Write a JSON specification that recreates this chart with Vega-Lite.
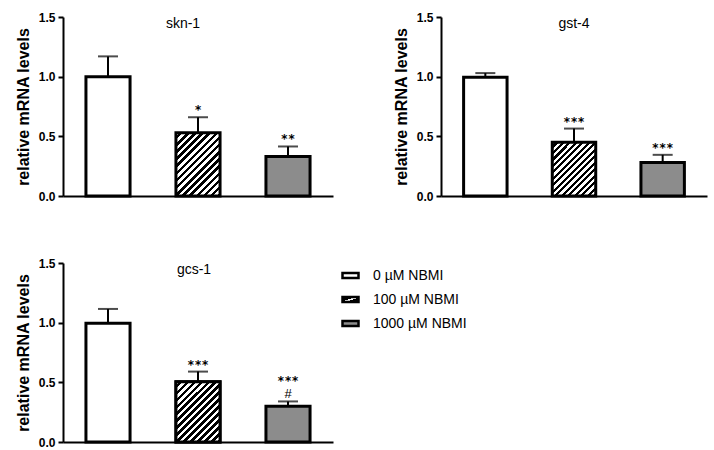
{
  "$schema": "https://vega.github.io/schema/vega-lite/v6.json",
  "padding": {"left": 15, "top": 11, "right": 5, "bottom": 0},
  "background": "white",
  "columns": 2,
  "spacing": {"row": 55, "column": 60},
  "datasets": {
    "d": [
      {"gene": "skn-1", "cond": "0 µM NBMI", "mean": 1.0, "upper": 1.17, "sig": "", "hash": ""},
      {"gene": "skn-1", "cond": "100 µM NBMI", "mean": 0.53, "upper": 0.66, "sig": "*", "hash": ""},
      {"gene": "skn-1", "cond": "1000 µM NBMI", "mean": 0.33, "upper": 0.415, "sig": "**", "hash": ""},
      {"gene": "gst-4", "cond": "0 µM NBMI", "mean": 0.995, "upper": 1.03, "sig": "", "hash": ""},
      {"gene": "gst-4", "cond": "100 µM NBMI", "mean": 0.45, "upper": 0.565, "sig": "***", "hash": ""},
      {"gene": "gst-4", "cond": "1000 µM NBMI", "mean": 0.28, "upper": 0.345, "sig": "***", "hash": ""},
      {"gene": "gcs-1", "cond": "0 µM NBMI", "mean": 0.995, "upper": 1.115, "sig": "", "hash": ""},
      {"gene": "gcs-1", "cond": "100 µM NBMI", "mean": 0.505, "upper": 0.59, "sig": "***", "hash": ""},
      {"gene": "gcs-1", "cond": "1000 µM NBMI", "mean": 0.3, "upper": 0.34, "sig": "***", "hash": "#"}
    ]
  },
  "concat": [
    {
      "width": 270, "height": 179,
      "data": {"name": "d"},
      "transform": [{"filter": "datum.gene === 'skn-1'"}],
      "encoding": {
        "x": {"field": "cond", "type": "nominal", "sort": null, "title": null, "scale": {"paddingInner": 0.51, "paddingOuter": 0.255}, "axis": {"labels": false, "ticks": false, "domainWidth": 2, "domainColor": "black"}},
        "y": {"field": "mean", "type": "quantitative", "title": "relative mRNA levels", "scale": {"domain": [0, 1.5]}, "axis": {"values": [0, 0.5, 1, 1.5], "format": ".1f"}}
      },
      "layer": [
        {"mark": {"type": "rule", "color": "black", "strokeWidth": 2}, "encoding": {"y2": {"field": "upper"}}},
        {"mark": {"type": "tick", "color": "black", "thickness": 2, "size": 20}, "encoding": {"y": {"field": "upper", "type": "quantitative", "title": "relative mRNA levels", "axis": {"values": [0, 0.5, 1, 1.5], "format": ".1f"}}}},
        {"mark": {"type": "bar", "stroke": "black", "strokeWidth": 3},
         "encoding": {"fill": {
           "condition": {"test": "datum.cond === '100 µM NBMI'", "value": {"gradient": "linear", "x1": 0, "y1": 0, "x2": 0.797, "y2": 1.142, "stops": [
{"offset":0,"color":"#fff"},{"offset":0.0333,"color":"#fff"},{"offset":0.0333,"color":"#000"},{"offset":0.0667,"color":"#000"},
{"offset":0.0667,"color":"#fff"},{"offset":0.1,"color":"#fff"},{"offset":0.1,"color":"#000"},{"offset":0.1333,"color":"#000"},
{"offset":0.1333,"color":"#fff"},{"offset":0.1667,"color":"#fff"},{"offset":0.1667,"color":"#000"},{"offset":0.2,"color":"#000"},
{"offset":0.2,"color":"#fff"},{"offset":0.2333,"color":"#fff"},{"offset":0.2333,"color":"#000"},{"offset":0.2667,"color":"#000"},
{"offset":0.2667,"color":"#fff"},{"offset":0.3,"color":"#fff"},{"offset":0.3,"color":"#000"},{"offset":0.3333,"color":"#000"},
{"offset":0.3333,"color":"#fff"},{"offset":0.3667,"color":"#fff"},{"offset":0.3667,"color":"#000"},{"offset":0.4,"color":"#000"},
{"offset":0.4,"color":"#fff"},{"offset":0.4333,"color":"#fff"},{"offset":0.4333,"color":"#000"},{"offset":0.4667,"color":"#000"},
{"offset":0.4667,"color":"#fff"},{"offset":0.5,"color":"#fff"},{"offset":0.5,"color":"#000"},{"offset":0.5333,"color":"#000"},
{"offset":0.5333,"color":"#fff"},{"offset":0.5667,"color":"#fff"},{"offset":0.5667,"color":"#000"},{"offset":0.6,"color":"#000"},
{"offset":0.6,"color":"#fff"},{"offset":0.6333,"color":"#fff"},{"offset":0.6333,"color":"#000"},{"offset":0.6667,"color":"#000"},
{"offset":0.6667,"color":"#fff"},{"offset":0.7,"color":"#fff"},{"offset":0.7,"color":"#000"},{"offset":0.7333,"color":"#000"},
{"offset":0.7333,"color":"#fff"},{"offset":0.7667,"color":"#fff"},{"offset":0.7667,"color":"#000"},{"offset":0.8,"color":"#000"},
{"offset":0.8,"color":"#fff"},{"offset":0.8333,"color":"#fff"},{"offset":0.8333,"color":"#000"},{"offset":0.8667,"color":"#000"},
{"offset":0.8667,"color":"#fff"},{"offset":0.9,"color":"#fff"},{"offset":0.9,"color":"#000"},{"offset":0.9333,"color":"#000"},
{"offset":0.9333,"color":"#fff"},{"offset":0.9667,"color":"#fff"},{"offset":0.9667,"color":"#000"},{"offset":1,"color":"#000"}]}},
           "field": "cond", "type": "nominal", "sort": null,
           "scale": {"domain": ["0 µM NBMI", "100 µM NBMI", "1000 µM NBMI"], "range": ["white", "url(#lg)", "#8c8c8c"]},
           "legend": {"orient": "none", "legendX": 278, "legendY": 249, "title": null, "symbolType": "M-1,-0.3H1V0.3H-1Z", "symbolSize": 256, "symbolStrokeColor": "black", "symbolStrokeWidth": 2.5, "symbolOpacity": 1, "labelFont": "Liberation Sans", "labelFontSize": 14, "labelColor": "black", "labelOffset": 13, "rowPadding": 7, "padding": 0}
         }}},
        {"transform": [{"filter": "datum.hash === ''"}], "mark": {"type": "text", "font": "DejaVu Sans Mono", "fontWeight": "bold", "fontSize": 12, "baseline": "alphabetic", "dy": -3, "color": "black"}, "encoding": {"y": {"field": "upper", "type": "quantitative", "title": "relative mRNA levels", "axis": {"values": [0, 0.5, 1, 1.5], "format": ".1f"}}, "text": {"field": "sig"}}},
        {"transform": [{"filter": "datum.cond === '100 µM NBMI'"}], "mark": {"type": "text", "font": "Liberation Sans", "fontSize": 14, "baseline": "middle", "dx": -15, "color": "black"}, "encoding": {"y": {"datum": 1.44, "type": "quantitative"}, "text": {"field": "gene"}}}
      ]
    },
    {
      "width": 266, "height": 179,
      "data": {"name": "d"},
      "transform": [{"filter": "datum.gene === 'gst-4'"}],
      "encoding": {
        "x": {"field": "cond", "type": "nominal", "sort": null, "title": null, "scale": {"paddingInner": 0.51, "paddingOuter": 0.255}, "axis": {"labels": false, "ticks": false, "domainWidth": 2, "domainColor": "black"}},
        "y": {"field": "mean", "type": "quantitative", "title": "relative mRNA levels", "scale": {"domain": [0, 1.5]}, "axis": {"values": [0, 0.5, 1, 1.5], "format": ".1f"}}
      },
      "layer": [
        {"mark": {"type": "rule", "color": "black", "strokeWidth": 2}, "encoding": {"y2": {"field": "upper"}}},
        {"mark": {"type": "tick", "color": "black", "thickness": 2, "size": 20}, "encoding": {"y": {"field": "upper", "type": "quantitative", "title": "relative mRNA levels", "axis": {"values": [0, 0.5, 1, 1.5], "format": ".1f"}}}},
        {"mark": {"type": "bar", "stroke": "black", "strokeWidth": 3},
         "encoding": {"fill": {
           "condition": {"test": "datum.cond === '100 µM NBMI'", "value": {"gradient": "linear", "x1": 0, "y1": 0, "x2": 0.885, "y2": 1.093, "stops": [
{"offset":0,"color":"#fff"},{"offset":0.0333,"color":"#fff"},{"offset":0.0333,"color":"#000"},{"offset":0.0667,"color":"#000"},
{"offset":0.0667,"color":"#fff"},{"offset":0.1,"color":"#fff"},{"offset":0.1,"color":"#000"},{"offset":0.1333,"color":"#000"},
{"offset":0.1333,"color":"#fff"},{"offset":0.1667,"color":"#fff"},{"offset":0.1667,"color":"#000"},{"offset":0.2,"color":"#000"},
{"offset":0.2,"color":"#fff"},{"offset":0.2333,"color":"#fff"},{"offset":0.2333,"color":"#000"},{"offset":0.2667,"color":"#000"},
{"offset":0.2667,"color":"#fff"},{"offset":0.3,"color":"#fff"},{"offset":0.3,"color":"#000"},{"offset":0.3333,"color":"#000"},
{"offset":0.3333,"color":"#fff"},{"offset":0.3667,"color":"#fff"},{"offset":0.3667,"color":"#000"},{"offset":0.4,"color":"#000"},
{"offset":0.4,"color":"#fff"},{"offset":0.4333,"color":"#fff"},{"offset":0.4333,"color":"#000"},{"offset":0.4667,"color":"#000"},
{"offset":0.4667,"color":"#fff"},{"offset":0.5,"color":"#fff"},{"offset":0.5,"color":"#000"},{"offset":0.5333,"color":"#000"},
{"offset":0.5333,"color":"#fff"},{"offset":0.5667,"color":"#fff"},{"offset":0.5667,"color":"#000"},{"offset":0.6,"color":"#000"},
{"offset":0.6,"color":"#fff"},{"offset":0.6333,"color":"#fff"},{"offset":0.6333,"color":"#000"},{"offset":0.6667,"color":"#000"},
{"offset":0.6667,"color":"#fff"},{"offset":0.7,"color":"#fff"},{"offset":0.7,"color":"#000"},{"offset":0.7333,"color":"#000"},
{"offset":0.7333,"color":"#fff"},{"offset":0.7667,"color":"#fff"},{"offset":0.7667,"color":"#000"},{"offset":0.8,"color":"#000"},
{"offset":0.8,"color":"#fff"},{"offset":0.8333,"color":"#fff"},{"offset":0.8333,"color":"#000"},{"offset":0.8667,"color":"#000"},
{"offset":0.8667,"color":"#fff"},{"offset":0.9,"color":"#fff"},{"offset":0.9,"color":"#000"},{"offset":0.9333,"color":"#000"},
{"offset":0.9333,"color":"#fff"},{"offset":0.9667,"color":"#fff"},{"offset":0.9667,"color":"#000"},{"offset":1,"color":"#000"}]}},
           "field": "cond", "type": "nominal", "sort": null,
           "scale": {"domain": ["0 µM NBMI", "100 µM NBMI", "1000 µM NBMI"], "range": ["white", "url(#lg)", "#8c8c8c"]}
         }}},
        {"transform": [{"filter": "datum.hash === ''"}], "mark": {"type": "text", "font": "DejaVu Sans Mono", "fontWeight": "bold", "fontSize": 12, "baseline": "alphabetic", "dy": -3, "color": "black"}, "encoding": {"y": {"field": "upper", "type": "quantitative", "title": "relative mRNA levels", "axis": {"values": [0, 0.5, 1, 1.5], "format": ".1f"}}, "text": {"field": "sig"}}},
        {"transform": [{"filter": "datum.cond === '100 µM NBMI'"}], "mark": {"type": "text", "font": "Liberation Sans", "fontSize": 14, "baseline": "middle", "dx": 0, "color": "black"}, "encoding": {"y": {"datum": 1.44, "type": "quantitative"}, "text": {"field": "gene"}}}
      ]
    },
    {
      "width": 270, "height": 179,
      "data": {"name": "d"},
      "transform": [{"filter": "datum.gene === 'gcs-1'"}],
      "encoding": {
        "x": {"field": "cond", "type": "nominal", "sort": null, "title": null, "scale": {"paddingInner": 0.51, "paddingOuter": 0.255}, "axis": {"labels": false, "ticks": false, "domainWidth": 2, "domainColor": "black"}},
        "y": {"field": "mean", "type": "quantitative", "title": "relative mRNA levels", "scale": {"domain": [0, 1.5]}, "axis": {"values": [0, 0.5, 1, 1.5], "format": ".1f"}}
      },
      "layer": [
        {"mark": {"type": "rule", "color": "black", "strokeWidth": 2}, "encoding": {"y2": {"field": "upper"}}},
        {"mark": {"type": "tick", "color": "black", "thickness": 2, "size": 20}, "encoding": {"y": {"field": "upper", "type": "quantitative", "title": "relative mRNA levels", "axis": {"values": [0, 0.5, 1, 1.5], "format": ".1f"}}}},
        {"transform": [{"filter": "datum.cond === '100 µM NBMI'"}],
         "mark": {"type": "bar", "stroke": "black", "strokeWidth": 3, "fill": {"gradient": "linear", "id": "lg", "x1": 0, "y1": 0, "x2": 1, "y2": 1, "stops": [{"offset": 0, "color": "#000"}, {"offset": 0.42, "color": "#000"}, {"offset": 0.42, "color": "#fff"}, {"offset": 0.58, "color": "#fff"}, {"offset": 0.58, "color": "#000"}, {"offset": 1, "color": "#000"}]}},
         "encoding": {}},
        {"mark": {"type": "bar", "stroke": "black", "strokeWidth": 3},
         "encoding": {"fill": {
           "condition": {"test": "datum.cond === '100 µM NBMI'", "value": {"gradient": "linear", "x1": 0, "y1": 0, "x2": 0.825, "y2": 1.128, "stops": [
{"offset":0,"color":"#fff"},{"offset":0.0333,"color":"#fff"},{"offset":0.0333,"color":"#000"},{"offset":0.0667,"color":"#000"},
{"offset":0.0667,"color":"#fff"},{"offset":0.1,"color":"#fff"},{"offset":0.1,"color":"#000"},{"offset":0.1333,"color":"#000"},
{"offset":0.1333,"color":"#fff"},{"offset":0.1667,"color":"#fff"},{"offset":0.1667,"color":"#000"},{"offset":0.2,"color":"#000"},
{"offset":0.2,"color":"#fff"},{"offset":0.2333,"color":"#fff"},{"offset":0.2333,"color":"#000"},{"offset":0.2667,"color":"#000"},
{"offset":0.2667,"color":"#fff"},{"offset":0.3,"color":"#fff"},{"offset":0.3,"color":"#000"},{"offset":0.3333,"color":"#000"},
{"offset":0.3333,"color":"#fff"},{"offset":0.3667,"color":"#fff"},{"offset":0.3667,"color":"#000"},{"offset":0.4,"color":"#000"},
{"offset":0.4,"color":"#fff"},{"offset":0.4333,"color":"#fff"},{"offset":0.4333,"color":"#000"},{"offset":0.4667,"color":"#000"},
{"offset":0.4667,"color":"#fff"},{"offset":0.5,"color":"#fff"},{"offset":0.5,"color":"#000"},{"offset":0.5333,"color":"#000"},
{"offset":0.5333,"color":"#fff"},{"offset":0.5667,"color":"#fff"},{"offset":0.5667,"color":"#000"},{"offset":0.6,"color":"#000"},
{"offset":0.6,"color":"#fff"},{"offset":0.6333,"color":"#fff"},{"offset":0.6333,"color":"#000"},{"offset":0.6667,"color":"#000"},
{"offset":0.6667,"color":"#fff"},{"offset":0.7,"color":"#fff"},{"offset":0.7,"color":"#000"},{"offset":0.7333,"color":"#000"},
{"offset":0.7333,"color":"#fff"},{"offset":0.7667,"color":"#fff"},{"offset":0.7667,"color":"#000"},{"offset":0.8,"color":"#000"},
{"offset":0.8,"color":"#fff"},{"offset":0.8333,"color":"#fff"},{"offset":0.8333,"color":"#000"},{"offset":0.8667,"color":"#000"},
{"offset":0.8667,"color":"#fff"},{"offset":0.9,"color":"#fff"},{"offset":0.9,"color":"#000"},{"offset":0.9333,"color":"#000"},
{"offset":0.9333,"color":"#fff"},{"offset":0.9667,"color":"#fff"},{"offset":0.9667,"color":"#000"},{"offset":1,"color":"#000"}]}},
           "field": "cond", "type": "nominal", "sort": null,
           "scale": {"domain": ["0 µM NBMI", "100 µM NBMI", "1000 µM NBMI"], "range": ["white", "url(#lg)", "#8c8c8c"]}
         }}},
        {"transform": [{"filter": "datum.hash === ''"}], "mark": {"type": "text", "font": "DejaVu Sans Mono", "fontWeight": "bold", "fontSize": 12, "baseline": "alphabetic", "dy": -3, "color": "black"}, "encoding": {"y": {"field": "upper", "type": "quantitative", "title": "relative mRNA levels", "axis": {"values": [0, 0.5, 1, 1.5], "format": ".1f"}}, "text": {"field": "sig"}}},
        {"transform": [{"filter": "datum.hash !== ''"}], "mark": {"type": "text", "font": "DejaVu Sans Mono", "fontWeight": "bold", "fontSize": 12, "baseline": "alphabetic", "dy": -16, "color": "black"}, "encoding": {"y": {"field": "upper", "type": "quantitative", "title": "relative mRNA levels", "axis": {"values": [0, 0.5, 1, 1.5], "format": ".1f"}}, "text": {"field": "sig"}}},
        {"transform": [{"filter": "datum.hash !== ''"}], "mark": {"type": "text", "font": "Liberation Sans", "fontSize": 13, "baseline": "alphabetic", "dy": -3.5, "color": "black"}, "encoding": {"y": {"field": "upper", "type": "quantitative", "title": "relative mRNA levels", "axis": {"values": [0, 0.5, 1, 1.5], "format": ".1f"}}, "text": {"field": "hash"}}},
        {"transform": [{"filter": "datum.cond === '100 µM NBMI'"}], "mark": {"type": "text", "font": "Liberation Sans", "fontSize": 14, "baseline": "middle", "dx": -4, "color": "black"}, "encoding": {"y": {"datum": 1.44, "type": "quantitative"}, "text": {"field": "gene"}}}
      ]
    }
  ],
  "config": {
    "view": {"stroke": null},
    "axis": {"grid": false},
    "axisY": {"tickSize": 5, "tickWidth": 2, "tickColor": "black", "domainWidth": 2, "domainColor": "black", "labelFont": "Liberation Sans", "labelFontSize": 12, "labelFontWeight": "bold", "labelColor": "black", "labelPadding": 3, "titleFont": "Liberation Sans", "titleFontSize": 16, "titleFontWeight": "bold", "titleColor": "black", "titlePadding": 7}
  }
}
